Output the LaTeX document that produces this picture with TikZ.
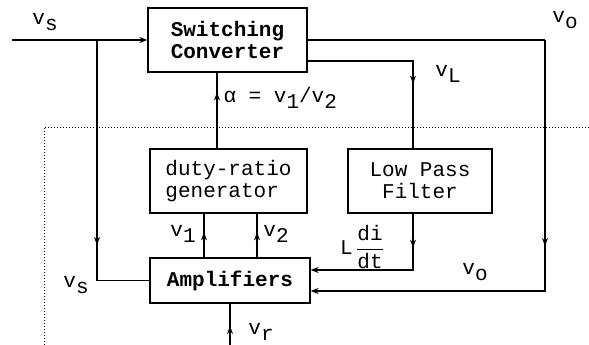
\documentclass[tikz,border=0pt]{standalone}
\usepackage{amsmath}
\usepackage{fontspec}
\setmonofont{Liberation Mono}
\usepackage{tikz}
\usetikzlibrary{arrows.meta,calc,positioning,decorations.markings}
\newcommand{\lw}[1]{\raisebox{-0.55ex}{#1}}

\begin{document}
\begin{tikzpicture}[x=1pt,y=-1pt,>={Stealth[length=8pt,width=6pt]},
  font=\ttfamily\fontsize{21}{22}\selectfont,
  blk/.style={draw,line width=1.3pt,inner sep=0pt},
  wire/.style={line width=1.3pt},
  midtip/.style={postaction={decorate},decoration={markings,mark=at position #1 with {\arrow{>}}}}]
  \useasboundingbox (0,0) rectangle (589,345);
  % blocks
  \node[blk,minimum width=159pt,minimum height=64pt,align=left,font=\ttfamily\bfseries\fontsize{21}{22}\selectfont] (conv) at (227.5,40) {Switching\\Converter};
  \node[blk,minimum width=157pt,minimum height=64pt,align=left] (duty) at (228.5,181) {duty-ratio\\generator};
  \node[blk,minimum width=144pt,minimum height=64pt,align=center] (lpf) at (420,181) {Low Pass\\Filter};
  \node[blk,minimum width=160pt,minimum height=45pt,font=\ttfamily\bfseries\fontsize{21}{22}\selectfont] (amp) at (230,280.5) {Amplifiers};
  % terminals
  \coordinate (vsin) at (12,40);
  \coordinate (tap) at (97,40);
  \coordinate (vout) at (545,40);
  \coordinate (vl) at (413,61);
  \coordinate (vr) at (230,345);
  % boundary
  \draw[dotted,line width=1pt] (44,345) -- (44,127) -- (589,127);
  % connections
  \draw[wire,->] (vsin) -- (conv.west);
  \draw[wire,midtip=205pt] (tap) |- (amp.west);
  \draw[wire] (conv.east) -- (vout);
  \draw[wire,->,midtip=206pt] (vout) |- ($(amp.east)+(0,10.5)$);
  \draw[wire,midtip=128pt] ($(conv.east)+(0,21)$) -| (lpf.north -| vl);
  \draw[wire,->,midtip=34pt] (lpf.south -| vl) |- ($(amp.east)+(0,-10.5)$);
  \draw[wire,midtip=56pt] ($(duty.north)+(-11.5,0)$) -- ($(conv.south)+(-10.5,0)$);
  \draw[wire,midtip=25pt] ($(amp.north)+(-26,0)$) coordinate (a1) -- (a1 |- duty.south);
  \draw[wire,midtip=25pt] ($(amp.north)+(27,0)$) coordinate (a2) -- (a2 |- duty.south);
  \draw[wire,midtip=19pt] (vr) -- (amp.south);
  % labels
  \node (lvs) at (45,22) {v\lw{s}};
  \node (lvo) at (565,20) {v\lw{o}};
  \node (lvl) at (448,74) {v\lw{L}};
  \node[anchor=west] (lalpha) at (220,98) {α = v\lw{1}/v\lw{2}};
  \node (lv1) at (183,234) {v\lw{1}};
  \node (lv2) at (276,234) {v\lw{2}};
  \node (lvs2) at (76,285) {v\lw{s}};
  \node (ldi) at (362,247) {L\,$\dfrac{\text{di}}{\text{dt}}$};
  \node (lvo2) at (475,272) {v\lw{o}};
  \node (lvr) at (261,332) {v\lw{r}};
\end{tikzpicture}
\end{document}
